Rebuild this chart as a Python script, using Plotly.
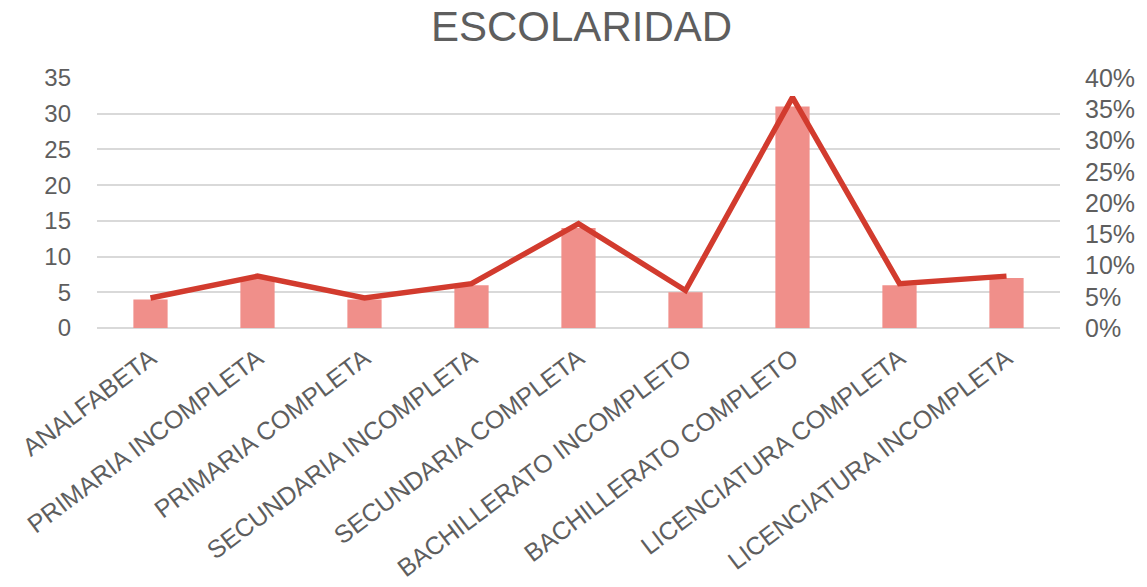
import plotly.graph_objects as go

# Nivel de escolaridad: frecuencia (barras) y porcentaje (línea)
categorias = [
    "ANALFABETA",
    "PRIMARIA INCOMPLETA",
    "PRIMARIA COMPLETA",
    "SECUNDARIA INCOMPLETA",
    "SECUNDARIA COMPLETA",
    "BACHILLERATO INCOMPLETO",
    "BACHILLERATO COMPLETO",
    "LICENCIATURA COMPLETA",
    "LICENCIATURA INCOMPLETA",
]
frecuencia = [4, 7, 4, 6, 14, 5, 31, 6, 7]
porcentaje = [4.8, 8.3, 4.8, 7.1, 16.7, 6.0, 36.9, 7.1, 8.3]

left_ticks = [0, 5, 10, 15, 20, 25, 30, 35]
right_ticks = [0, 5, 10, 15, 20, 25, 30, 35, 40]
right_labels = [f"{v}%" for v in right_ticks]

FONT = "Liberation Sans, Arial, sans-serif"
GRAY = "#5E5E5E"

fig = go.Figure()
fig.add_trace(go.Bar(
    x=categorias, y=frecuencia, name="Frecuencia",
    marker=dict(color="#F08F8A", line=dict(width=0)),
    width=0.32, yaxis="y",
))
fig.add_trace(go.Scatter(
    x=categorias, y=porcentaje, name="Porcentaje",
    mode="lines", line=dict(color="#D23B2E", width=5.5),
    yaxis="y2",
))

fig.update_layout(
    width=1147, height=587,
    margin=dict(l=97, r=87, t=78, b=259),
    paper_bgcolor="white", plot_bgcolor="white",
    showlegend=False,
    title=dict(text="ESCOLARIDAD", x=0.507, xanchor="center", y=0.955, yanchor="middle",
               font=dict(family=FONT, size=42, color=GRAY)),
    font=dict(family=FONT, color=GRAY),
    xaxis=dict(
        tickangle=-37, tickfont=dict(size=25, color=GRAY),
        showgrid=False, showline=False, ticks="", automargin=False,
        ticklabelstandoff=10,
    ),
    yaxis=dict(
        range=[0, 35], tickvals=left_ticks,
        tickfont=dict(size=24, color=GRAY),
        gridcolor="#D9D9D9", gridwidth=1.5,
        zeroline=True, zerolinecolor="#D9D9D9", zerolinewidth=1.5,
        showline=False, ticks="", ticklen=0, automargin=False,
        ticklabelstandoff=25,
    ),
    yaxis2=dict(
        range=[0, 40], tickvals=right_ticks, ticktext=right_labels,
        overlaying="y", side="right",
        tickfont=dict(size=25, color=GRAY),
        showgrid=False, zeroline=False, showline=False, ticks="",
        automargin=False, ticklabelstandoff=24,
    ),
    bargap=0.68,
)

fig.write_html("out.html")
